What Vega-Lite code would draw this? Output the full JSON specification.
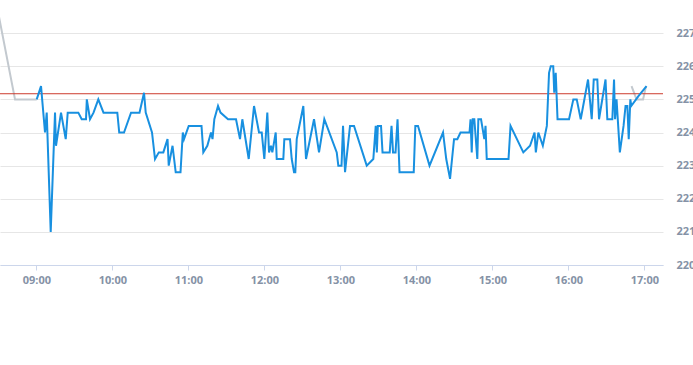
{
  "$schema": "https://vega.github.io/schema/vega-lite/v6.json",
  "width": 663,
  "height": 265,
  "autosize": {"type": "none"},
  "padding": {"left": 0, "top": 0, "right": 30, "bottom": 100},
  "background": "white",
  "config": {
    "view": {"stroke": null},
    "axisX": {
      "grid": false, "domainColor": "#ccd6eb", "tickColor": "#ccd6eb", "tickSize": 5,
      "labelColor": "#8592a6", "labelFont": "Open Sans", "labelFontSize": 11,
      "labelFontWeight": "bold", "labelPadding": 4, "title": null
    },
    "axisY": {
      "domain": false, "ticks": false, "grid": true, "gridColor": "#e6e6e6",
      "labelColor": "#8592a6", "labelFont": "Open Sans", "labelFontSize": 11,
      "labelFontWeight": "bold", "labelPadding": 13, "labelOverlap": false, "title": null
    }
  },
  "datasets": {
    "gray": [
      {"seg": "a", "t": "2024-01-01T08:30:00", "v": 227.6},
      {"seg": "a", "t": "2024-01-01T08:43:12", "v": 225.0},
      {"seg": "a", "t": "2024-01-01T09:00:19", "v": 225.0},
      {"seg": "b", "t": "2024-01-01T16:49:54", "v": 225.4},
      {"seg": "b", "t": "2024-01-01T16:53:51", "v": 225.0},
      {"seg": "b", "t": "2024-01-01T16:58:59", "v": 225.0},
      {"seg": "b", "t": "2024-01-01T17:01:21", "v": 225.4}
    ],
    "blue": [
      {"t": "2024-01-01T09:00:19", "v": 225.0},
      {"t": "2024-01-01T09:03:43", "v": 225.4},
      {"t": "2024-01-01T09:06:52", "v": 224.0},
      {"t": "2024-01-01T09:08:13", "v": 224.6},
      {"t": "2024-01-01T09:11:22", "v": 221.0},
      {"t": "2024-01-01T09:14:46", "v": 224.6},
      {"t": "2024-01-01T09:15:33", "v": 223.6},
      {"t": "2024-01-01T09:19:30", "v": 224.6},
      {"t": "2024-01-01T09:23:13", "v": 223.8},
      {"t": "2024-01-01T09:24:47", "v": 224.6},
      {"t": "2024-01-01T09:33:10", "v": 224.6},
      {"t": "2024-01-01T09:35:50", "v": 224.4},
      {"t": "2024-01-01T09:39:14", "v": 224.4},
      {"t": "2024-01-01T09:39:52", "v": 225.0},
      {"t": "2024-01-01T09:42:24", "v": 224.4},
      {"t": "2024-01-01T09:45:10", "v": 224.6},
      {"t": "2024-01-01T09:48:57", "v": 225.0},
      {"t": "2024-01-01T09:53:03", "v": 224.6},
      {"t": "2024-01-01T10:03:57", "v": 224.6},
      {"t": "2024-01-01T10:05:27", "v": 224.0},
      {"t": "2024-01-01T10:09:14", "v": 224.0},
      {"t": "2024-01-01T10:14:46", "v": 224.6},
      {"t": "2024-01-01T10:21:28", "v": 224.6},
      {"t": "2024-01-01T10:25:02", "v": 225.2},
      {"t": "2024-01-01T10:26:22", "v": 224.6},
      {"t": "2024-01-01T10:31:20", "v": 224.0},
      {"t": "2024-01-01T10:33:43", "v": 223.2},
      {"t": "2024-01-01T10:36:43", "v": 223.4},
      {"t": "2024-01-01T10:40:16", "v": 223.4},
      {"t": "2024-01-01T10:43:35", "v": 223.8},
      {"t": "2024-01-01T10:44:32", "v": 223.0},
      {"t": "2024-01-01T10:47:32", "v": 223.6},
      {"t": "2024-01-01T10:50:03", "v": 222.8},
      {"t": "2024-01-01T10:53:50", "v": 222.8},
      {"t": "2024-01-01T10:55:39", "v": 224.0},
      {"t": "2024-01-01T10:56:36", "v": 223.8},
      {"t": "2024-01-01T11:00:19", "v": 224.2},
      {"t": "2024-01-01T11:10:25", "v": 224.2},
      {"t": "2024-01-01T11:11:50", "v": 223.4},
      {"t": "2024-01-01T11:15:00", "v": 223.6},
      {"t": "2024-01-01T11:17:55", "v": 224.0},
      {"t": "2024-01-01T11:19:06", "v": 223.8},
      {"t": "2024-01-01T11:20:32", "v": 224.4},
      {"t": "2024-01-01T11:23:27", "v": 224.8},
      {"t": "2024-01-01T11:25:25", "v": 224.6},
      {"t": "2024-01-01T11:31:21", "v": 224.4},
      {"t": "2024-01-01T11:37:39", "v": 224.4},
      {"t": "2024-01-01T11:40:49", "v": 223.8},
      {"t": "2024-01-01T11:42:38", "v": 224.4},
      {"t": "2024-01-01T11:47:41", "v": 223.2},
      {"t": "2024-01-01T11:51:52", "v": 224.8},
      {"t": "2024-01-01T11:55:49", "v": 224.0},
      {"t": "2024-01-01T11:57:57", "v": 224.0},
      {"t": "2024-01-01T12:00:00", "v": 223.2},
      {"t": "2024-01-01T12:02:22", "v": 224.6},
      {"t": "2024-01-01T12:03:43", "v": 223.4},
      {"t": "2024-01-01T12:05:17", "v": 223.6},
      {"t": "2024-01-01T12:06:19", "v": 223.4},
      {"t": "2024-01-01T12:09:00", "v": 224.0},
      {"t": "2024-01-01T12:09:47", "v": 223.2},
      {"t": "2024-01-01T12:15:00", "v": 223.2},
      {"t": "2024-01-01T12:15:47", "v": 223.8},
      {"t": "2024-01-01T12:20:17", "v": 223.8},
      {"t": "2024-01-01T12:21:38", "v": 223.2},
      {"t": "2024-01-01T12:23:27", "v": 222.8},
      {"t": "2024-01-01T12:24:28", "v": 222.8},
      {"t": "2024-01-01T12:25:35", "v": 223.8},
      {"t": "2024-01-01T12:30:47", "v": 224.8},
      {"t": "2024-01-01T12:32:55", "v": 223.2},
      {"t": "2024-01-01T12:39:14", "v": 224.4},
      {"t": "2024-01-01T12:43:11", "v": 223.4},
      {"t": "2024-01-01T12:47:22", "v": 224.4},
      {"t": "2024-01-01T12:57:10", "v": 223.4},
      {"t": "2024-01-01T12:58:25", "v": 223.0},
      {"t": "2024-01-01T13:00:57", "v": 223.0},
      {"t": "2024-01-01T13:02:08", "v": 224.2},
      {"t": "2024-01-01T13:03:43", "v": 222.8},
      {"t": "2024-01-01T13:07:39", "v": 224.2},
      {"t": "2024-01-01T13:10:49", "v": 224.2},
      {"t": "2024-01-01T13:20:51", "v": 223.0},
      {"t": "2024-01-01T13:26:03", "v": 223.2},
      {"t": "2024-01-01T13:27:57", "v": 224.2},
      {"t": "2024-01-01T13:28:49", "v": 223.4},
      {"t": "2024-01-01T13:29:37", "v": 224.2},
      {"t": "2024-01-01T13:32:08", "v": 224.2},
      {"t": "2024-01-01T13:33:19", "v": 223.4},
      {"t": "2024-01-01T13:39:00", "v": 223.4},
      {"t": "2024-01-01T13:40:25", "v": 224.2},
      {"t": "2024-01-01T13:41:37", "v": 223.4},
      {"t": "2024-01-01T13:43:35", "v": 223.4},
      {"t": "2024-01-01T13:45:10", "v": 224.4},
      {"t": "2024-01-01T13:46:44", "v": 222.8},
      {"t": "2024-01-01T13:57:57", "v": 222.8},
      {"t": "2024-01-01T13:59:13", "v": 224.2},
      {"t": "2024-01-01T14:01:20", "v": 224.2},
      {"t": "2024-01-01T14:10:25", "v": 223.0},
      {"t": "2024-01-01T14:21:05", "v": 224.0},
      {"t": "2024-01-01T14:23:37", "v": 223.2},
      {"t": "2024-01-01T14:26:37", "v": 222.6},
      {"t": "2024-01-01T14:29:46", "v": 223.8},
      {"t": "2024-01-01T14:32:22", "v": 223.8},
      {"t": "2024-01-01T14:34:53", "v": 224.0},
      {"t": "2024-01-01T14:42:00", "v": 224.0},
      {"t": "2024-01-01T14:42:47", "v": 224.4},
      {"t": "2024-01-01T14:43:44", "v": 223.4},
      {"t": "2024-01-01T14:44:32", "v": 224.4},
      {"t": "2024-01-01T14:45:47", "v": 224.4},
      {"t": "2024-01-01T14:48:09", "v": 223.2},
      {"t": "2024-01-01T14:48:57", "v": 224.4},
      {"t": "2024-01-01T14:51:05", "v": 224.4},
      {"t": "2024-01-01T14:53:41", "v": 223.8},
      {"t": "2024-01-01T14:54:38", "v": 224.2},
      {"t": "2024-01-01T14:55:35", "v": 223.2},
      {"t": "2024-01-01T15:12:47", "v": 223.2},
      {"t": "2024-01-01T15:14:22", "v": 224.2},
      {"t": "2024-01-01T15:24:28", "v": 223.4},
      {"t": "2024-01-01T15:29:46", "v": 223.6},
      {"t": "2024-01-01T15:33:19", "v": 224.0},
      {"t": "2024-01-01T15:34:21", "v": 223.4},
      {"t": "2024-01-01T15:36:19", "v": 224.0},
      {"t": "2024-01-01T15:39:52", "v": 223.6},
      {"t": "2024-01-01T15:43:02", "v": 224.2},
      {"t": "2024-01-01T15:44:46", "v": 225.8},
      {"t": "2024-01-01T15:46:07", "v": 226.0},
      {"t": "2024-01-01T15:48:05", "v": 226.0},
      {"t": "2024-01-01T15:48:52", "v": 225.2},
      {"t": "2024-01-01T15:50:03", "v": 225.8},
      {"t": "2024-01-01T15:51:28", "v": 224.4},
      {"t": "2024-01-01T16:00:33", "v": 224.4},
      {"t": "2024-01-01T16:03:57", "v": 225.0},
      {"t": "2024-01-01T16:06:38", "v": 225.0},
      {"t": "2024-01-01T16:09:47", "v": 224.4},
      {"t": "2024-01-01T16:15:33", "v": 225.6},
      {"t": "2024-01-01T16:18:28", "v": 224.4},
      {"t": "2024-01-01T16:20:03", "v": 225.6},
      {"t": "2024-01-01T16:22:53", "v": 225.6},
      {"t": "2024-01-01T16:24:14", "v": 224.4},
      {"t": "2024-01-01T16:29:22", "v": 225.6},
      {"t": "2024-01-01T16:30:47", "v": 224.4},
      {"t": "2024-01-01T16:34:44", "v": 224.4},
      {"t": "2024-01-01T16:36:05", "v": 225.6},
      {"t": "2024-01-01T16:36:52", "v": 224.4},
      {"t": "2024-01-01T16:38:03", "v": 225.0},
      {"t": "2024-01-01T16:40:40", "v": 223.4},
      {"t": "2024-01-01T16:43:35", "v": 224.2},
      {"t": "2024-01-01T16:45:10", "v": 224.8},
      {"t": "2024-01-01T16:46:35", "v": 224.8},
      {"t": "2024-01-01T16:47:41", "v": 223.8},
      {"t": "2024-01-01T16:48:57", "v": 225.0},
      {"t": "2024-01-01T16:49:40", "v": 224.8},
      {"t": "2024-01-01T16:55:20", "v": 225.1},
      {"t": "2024-01-01T17:01:44", "v": 225.4}
    ],
    "ref": [{"v": 225.17}]
  },
  "encoding": {
    "y": {
      "field": "v", "type": "quantitative",
      "scale": {"domain": [220, 228], "nice": false, "zero": false},
      "axis": {"orient": "right", "values": [220, 221, 222, 223, 224, 225, 226, 227], "tickCount": 8}
    }
  },
  "layer": [
    {
      "data": {"name": "gray"},
      "mark": {"type": "line", "color": "#c3c9cf", "strokeWidth": 2, "clip": true},
      "encoding": {
        "x": {
          "field": "t", "type": "temporal",
          "scale": {"domain": [
            {"year": 2024, "month": 1, "date": 1, "hours": 8, "minutes": 31, "seconds": 20},
            {"year": 2024, "month": 1, "date": 1, "hours": 17, "minutes": 14, "seconds": 44}
          ]},
          "axis": {
            "format": "%H:%M",
            "values": [
              {"year": 2024, "month": 1, "date": 1, "hours": 9},
              {"year": 2024, "month": 1, "date": 1, "hours": 10},
              {"year": 2024, "month": 1, "date": 1, "hours": 11},
              {"year": 2024, "month": 1, "date": 1, "hours": 12},
              {"year": 2024, "month": 1, "date": 1, "hours": 13},
              {"year": 2024, "month": 1, "date": 1, "hours": 14},
              {"year": 2024, "month": 1, "date": 1, "hours": 15},
              {"year": 2024, "month": 1, "date": 1, "hours": 16},
              {"year": 2024, "month": 1, "date": 1, "hours": 17}
            ]
          }
        },
        "detail": {"field": "seg", "type": "nominal"}
      }
    },
    {
      "data": {"name": "ref"},
      "mark": {"type": "rule", "color": "#cc3b2e", "strokeWidth": 1},
      "encoding": {}
    },
    {
      "data": {"name": "blue"},
      "mark": {"type": "line", "color": "#1890e0", "strokeWidth": 2, "clip": true},
      "encoding": {
        "x": {"field": "t", "type": "temporal"}
      }
    }
  ]
}
